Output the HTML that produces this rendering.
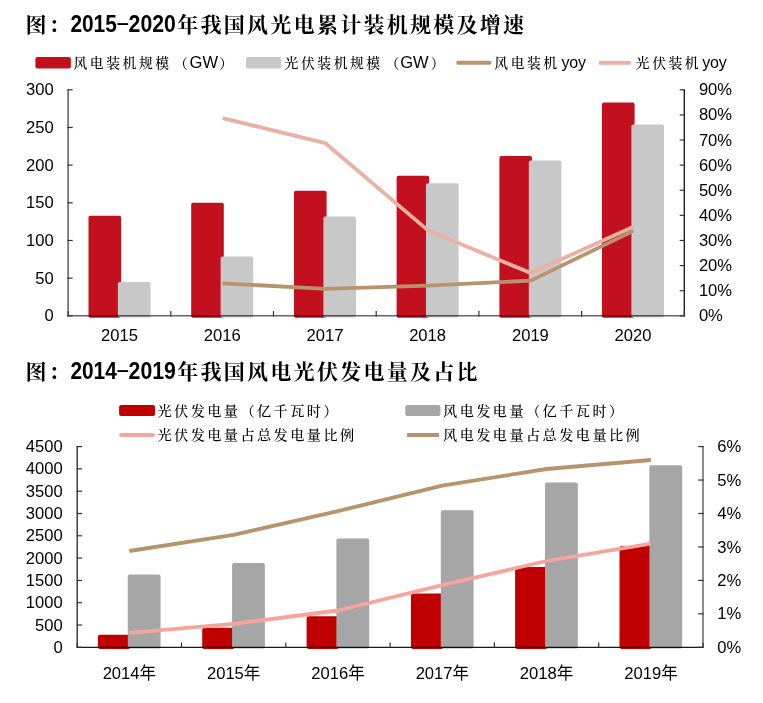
<!DOCTYPE html>
<html lang="zh-CN"><head><meta charset="utf-8"><title>chart</title>
<style>html,body{margin:0;padding:0;background:#fff}svg{display:block}text{white-space:pre}</style></head>
<body>
<svg width="763" height="703" viewBox="0 0 763 703">
<rect width="763" height="703" fill="#fff"/>
<text fill="#000"><tspan x="25.6" y="32.2" font-size="21" font-family='"Liberation Sans", "Noto Serif CJK SC", serif' font-weight="bold" letter-spacing="2.27">图：</tspan><tspan x="70.4" y="31.9" font-size="23" font-family='"Liberation Sans", "Noto Sans CJK SC", sans-serif' font-weight="bold" textLength="46.4" lengthAdjust="spacingAndGlyphs">2015</tspan><tspan x="115.4" y="29.8" font-size="23" font-family='"Liberation Sans", "Noto Sans CJK SC", sans-serif' font-weight="normal" textLength="14.6" lengthAdjust="spacingAndGlyphs">-</tspan><tspan x="128.6" y="31.9" font-size="23" font-family='"Liberation Sans", "Noto Sans CJK SC", sans-serif' font-weight="bold" textLength="47.2" lengthAdjust="spacingAndGlyphs">2020</tspan><tspan x="177.3" y="32.2" font-size="21" font-family='"Liberation Sans", "Noto Serif CJK SC", serif' font-weight="bold" letter-spacing="2.27">年我国风光电累计装机规模及增速</tspan></text>
<text fill="#000"><tspan x="25.6" y="379" font-size="21" font-family='"Liberation Sans", "Noto Serif CJK SC", serif' font-weight="bold" letter-spacing="2.27">图：</tspan><tspan x="70.4" y="378.7" font-size="23" font-family='"Liberation Sans", "Noto Sans CJK SC", sans-serif' font-weight="bold" textLength="46.4" lengthAdjust="spacingAndGlyphs">2014</tspan><tspan x="115.4" y="376.6" font-size="23" font-family='"Liberation Sans", "Noto Sans CJK SC", sans-serif' font-weight="normal" textLength="14.6" lengthAdjust="spacingAndGlyphs">-</tspan><tspan x="128.6" y="378.7" font-size="23" font-family='"Liberation Sans", "Noto Sans CJK SC", sans-serif' font-weight="bold" textLength="47.2" lengthAdjust="spacingAndGlyphs">2019</tspan><tspan x="177.3" y="379" font-size="21" font-family='"Liberation Sans", "Noto Serif CJK SC", serif' font-weight="bold" letter-spacing="2.27">年我国风电光伏发电量及占比</tspan></text>
<rect x="35.4" y="56.9" width="35.5" height="11.6" rx="2" fill="#c3101e"/>
<text fill="#000"><tspan x="73.5" y="67.9" font-size="13.8" font-family='"Liberation Sans", "Noto Serif CJK SC", serif' font-weight="500" letter-spacing="2.55">风电装机规模</tspan><tspan x="174" y="67.9" font-size="13.8" font-family='"Liberation Sans", "Noto Serif CJK SC", serif' font-weight="500" letter-spacing="2.55">（</tspan><tspan x="189.6" y="67.8" font-size="16.5" font-family='"Liberation Sans", "Noto Sans CJK SC", sans-serif' font-weight="normal">GW</tspan><tspan x="219.2" y="67.9" font-size="13.8" font-family='"Liberation Sans", "Noto Serif CJK SC", serif' font-weight="500" letter-spacing="2.55">）</tspan></text>
<rect x="246" y="56.9" width="35.1" height="11.6" rx="2" fill="#c8c8c8"/>
<text fill="#000"><tspan x="284.6" y="67.9" font-size="13.8" font-family='"Liberation Sans", "Noto Serif CJK SC", serif' font-weight="500" letter-spacing="2.55">光伏装机规模</tspan><tspan x="385.4" y="67.9" font-size="13.8" font-family='"Liberation Sans", "Noto Serif CJK SC", serif' font-weight="500" letter-spacing="2.55">（</tspan><tspan x="400.2" y="67.8" font-size="16.5" font-family='"Liberation Sans", "Noto Sans CJK SC", sans-serif' font-weight="normal">GW</tspan><tspan x="430.7" y="67.9" font-size="13.8" font-family='"Liberation Sans", "Noto Serif CJK SC", serif' font-weight="500" letter-spacing="2.55">）</tspan></text>
<line x1="458.2" y1="62.85" x2="489.6" y2="62.85" stroke="#b8946e" stroke-width="4" stroke-linecap="round"/>
<text fill="#000"><tspan x="494.3" y="67.9" font-size="13.8" font-family='"Liberation Sans", "Noto Serif CJK SC", serif' font-weight="500" letter-spacing="2.55">风电装机</tspan><tspan x="561.5" y="68" font-size="16" font-family='"Liberation Sans", "Noto Sans CJK SC", sans-serif' font-weight="normal" textLength="24.4" lengthAdjust="spacing">yoy</tspan></text>
<line x1="599" y1="62.85" x2="630.8" y2="62.85" stroke="#e9b0a4" stroke-width="3.9"/>
<text fill="#000"><tspan x="635.8" y="67.9" font-size="13.8" font-family='"Liberation Sans", "Noto Serif CJK SC", serif' font-weight="500" letter-spacing="2.55">光伏装机</tspan><tspan x="702.2" y="68" font-size="16" font-family='"Liberation Sans", "Noto Sans CJK SC", sans-serif' font-weight="normal" textLength="24.6" lengthAdjust="spacing">yoy</tspan></text>
<rect x="88.5" y="215.8" width="32.6" height="102.0" rx="1.8" fill="#c3101e"/>
<rect x="117.9" y="282.1" width="32.6" height="35.3" rx="1.8" fill="#c8c8c8"/>
<rect x="191.2" y="202.8" width="32.6" height="115.0" rx="1.8" fill="#c3101e"/>
<rect x="220.6" y="256.5" width="32.6" height="60.9" rx="1.8" fill="#c8c8c8"/>
<rect x="294.0" y="190.7" width="32.6" height="127.1" rx="1.8" fill="#c3101e"/>
<rect x="323.4" y="216.4" width="32.6" height="101.0" rx="1.8" fill="#c8c8c8"/>
<rect x="396.6" y="175.7" width="32.6" height="142.1" rx="1.8" fill="#c3101e"/>
<rect x="426.0" y="183.2" width="32.6" height="134.2" rx="1.8" fill="#c8c8c8"/>
<rect x="499.4" y="156.1" width="32.6" height="161.7" rx="1.8" fill="#c3101e"/>
<rect x="528.8" y="160.6" width="32.6" height="156.8" rx="1.8" fill="#c8c8c8"/>
<rect x="602.0" y="102.6" width="32.6" height="215.2" rx="1.8" fill="#c3101e"/>
<rect x="631.4" y="124.5" width="32.6" height="192.9" rx="1.8" fill="#c8c8c8"/>
<path d="M68.1 89.2V315.8H684.3" fill="none" stroke="#000" stroke-opacity="0.6" stroke-width="1.6"/>
<line x1="684.3" x2="684.3" y1="89.2" y2="316.40000000000003" stroke="#111" stroke-width="1.3"/>
<line x1="67.5" x2="72.69999999999999" y1="89.80" y2="89.80" stroke="#333" stroke-width="1.2"/>
<text x="53.8" y="95.3" font-size="16.6" font-family='"Liberation Sans", "Noto Sans CJK SC", sans-serif' font-weight="normal" text-anchor="end" fill="#000">300</text>
<line x1="67.5" x2="72.69999999999999" y1="127.47" y2="127.47" stroke="#333" stroke-width="1.2"/>
<text x="53.8" y="133.0" font-size="16.6" font-family='"Liberation Sans", "Noto Sans CJK SC", sans-serif' font-weight="normal" text-anchor="end" fill="#000">250</text>
<line x1="67.5" x2="72.69999999999999" y1="165.13" y2="165.13" stroke="#333" stroke-width="1.2"/>
<text x="53.8" y="170.6" font-size="16.6" font-family='"Liberation Sans", "Noto Sans CJK SC", sans-serif' font-weight="normal" text-anchor="end" fill="#000">200</text>
<line x1="67.5" x2="72.69999999999999" y1="202.80" y2="202.80" stroke="#333" stroke-width="1.2"/>
<text x="53.8" y="208.3" font-size="16.6" font-family='"Liberation Sans", "Noto Sans CJK SC", sans-serif' font-weight="normal" text-anchor="end" fill="#000">150</text>
<line x1="67.5" x2="72.69999999999999" y1="240.47" y2="240.47" stroke="#333" stroke-width="1.2"/>
<text x="53.8" y="246.0" font-size="16.6" font-family='"Liberation Sans", "Noto Sans CJK SC", sans-serif' font-weight="normal" text-anchor="end" fill="#000">100</text>
<line x1="67.5" x2="72.69999999999999" y1="278.13" y2="278.13" stroke="#333" stroke-width="1.2"/>
<text x="53.8" y="283.6" font-size="16.6" font-family='"Liberation Sans", "Noto Sans CJK SC", sans-serif' font-weight="normal" text-anchor="end" fill="#000">50</text>
<line x1="67.5" x2="72.69999999999999" y1="315.80" y2="315.80" stroke="#333" stroke-width="1.2"/>
<text x="53.8" y="321.3" font-size="16.6" font-family='"Liberation Sans", "Noto Sans CJK SC", sans-serif' font-weight="normal" text-anchor="end" fill="#000">0</text>
<line x1="679.6999999999999" x2="684.8" y1="89.80" y2="89.80" stroke="#333" stroke-width="1.2"/>
<text x="698.9" y="95.3" font-size="16.6" font-family='"Liberation Sans", "Noto Sans CJK SC", sans-serif' font-weight="normal" text-anchor="start" fill="#000">90%</text>
<line x1="679.6999999999999" x2="684.8" y1="114.91" y2="114.91" stroke="#333" stroke-width="1.2"/>
<text x="698.9" y="120.4" font-size="16.6" font-family='"Liberation Sans", "Noto Sans CJK SC", sans-serif' font-weight="normal" text-anchor="start" fill="#000">80%</text>
<line x1="679.6999999999999" x2="684.8" y1="140.02" y2="140.02" stroke="#333" stroke-width="1.2"/>
<text x="698.9" y="145.5" font-size="16.6" font-family='"Liberation Sans", "Noto Sans CJK SC", sans-serif' font-weight="normal" text-anchor="start" fill="#000">70%</text>
<line x1="679.6999999999999" x2="684.8" y1="165.13" y2="165.13" stroke="#333" stroke-width="1.2"/>
<text x="698.9" y="170.6" font-size="16.6" font-family='"Liberation Sans", "Noto Sans CJK SC", sans-serif' font-weight="normal" text-anchor="start" fill="#000">60%</text>
<line x1="679.6999999999999" x2="684.8" y1="190.24" y2="190.24" stroke="#333" stroke-width="1.2"/>
<text x="698.9" y="195.7" font-size="16.6" font-family='"Liberation Sans", "Noto Sans CJK SC", sans-serif' font-weight="normal" text-anchor="start" fill="#000">50%</text>
<line x1="679.6999999999999" x2="684.8" y1="215.36" y2="215.36" stroke="#333" stroke-width="1.2"/>
<text x="698.9" y="220.9" font-size="16.6" font-family='"Liberation Sans", "Noto Sans CJK SC", sans-serif' font-weight="normal" text-anchor="start" fill="#000">40%</text>
<line x1="679.6999999999999" x2="684.8" y1="240.47" y2="240.47" stroke="#333" stroke-width="1.2"/>
<text x="698.9" y="246.0" font-size="16.6" font-family='"Liberation Sans", "Noto Sans CJK SC", sans-serif' font-weight="normal" text-anchor="start" fill="#000">30%</text>
<line x1="679.6999999999999" x2="684.8" y1="265.58" y2="265.58" stroke="#333" stroke-width="1.2"/>
<text x="698.9" y="271.1" font-size="16.6" font-family='"Liberation Sans", "Noto Sans CJK SC", sans-serif' font-weight="normal" text-anchor="start" fill="#000">20%</text>
<line x1="679.6999999999999" x2="684.8" y1="290.69" y2="290.69" stroke="#333" stroke-width="1.2"/>
<text x="698.9" y="296.2" font-size="16.6" font-family='"Liberation Sans", "Noto Sans CJK SC", sans-serif' font-weight="normal" text-anchor="start" fill="#000">10%</text>
<line x1="679.6999999999999" x2="684.8" y1="315.80" y2="315.80" stroke="#333" stroke-width="1.2"/>
<text x="698.9" y="321.3" font-size="16.6" font-family='"Liberation Sans", "Noto Sans CJK SC", sans-serif' font-weight="normal" text-anchor="start" fill="#000">0%</text>
<line x1="68.10" x2="68.10" y1="311.0" y2="316.40000000000003" stroke="#333" stroke-width="1.2"/>
<line x1="170.80" x2="170.80" y1="311.0" y2="316.40000000000003" stroke="#333" stroke-width="1.2"/>
<line x1="273.50" x2="273.50" y1="311.0" y2="316.40000000000003" stroke="#333" stroke-width="1.2"/>
<line x1="376.20" x2="376.20" y1="311.0" y2="316.40000000000003" stroke="#333" stroke-width="1.2"/>
<line x1="478.90" x2="478.90" y1="311.0" y2="316.40000000000003" stroke="#333" stroke-width="1.2"/>
<line x1="581.60" x2="581.60" y1="311.0" y2="316.40000000000003" stroke="#333" stroke-width="1.2"/>
<line x1="684.30" x2="684.30" y1="311.0" y2="316.40000000000003" stroke="#333" stroke-width="1.2"/>
<text x="119.5" y="341.2" font-size="16.6" font-family='"Liberation Sans", "Noto Sans CJK SC", sans-serif' font-weight="normal" text-anchor="middle" fill="#000">2015</text>
<text x="222.2" y="341.2" font-size="16.6" font-family='"Liberation Sans", "Noto Sans CJK SC", sans-serif' font-weight="normal" text-anchor="middle" fill="#000">2016</text>
<text x="325.0" y="341.2" font-size="16.6" font-family='"Liberation Sans", "Noto Sans CJK SC", sans-serif' font-weight="normal" text-anchor="middle" fill="#000">2017</text>
<text x="427.6" y="341.2" font-size="16.6" font-family='"Liberation Sans", "Noto Sans CJK SC", sans-serif' font-weight="normal" text-anchor="middle" fill="#000">2018</text>
<text x="530.4" y="341.2" font-size="16.6" font-family='"Liberation Sans", "Noto Sans CJK SC", sans-serif' font-weight="normal" text-anchor="middle" fill="#000">2019</text>
<text x="633.0" y="341.2" font-size="16.6" font-family='"Liberation Sans", "Noto Sans CJK SC", sans-serif' font-weight="normal" text-anchor="middle" fill="#000">2020</text>
<polyline points="222.6,283.3 325.4,288.8 428.0,285.7 530.8,280.6 633.4,230.9" fill="none" stroke="#b8946e" stroke-width="3.8" stroke-linejoin="round" stroke-linecap="butt"/>
<polyline points="222.6,118.1 325.4,143.2 428.0,230.4 530.8,273.1 633.4,226.7" fill="none" stroke="#e9b0a4" stroke-width="3.8" stroke-linejoin="round" stroke-linecap="butt"/>
<rect x="119.1" y="405" width="35.9" height="11" rx="2" fill="#c00000"/>
<text x="157.5" y="415.8" font-size="14.2" font-family='"Liberation Sans", "Noto Serif CJK SC", serif' font-weight="500" text-anchor="start" fill="#000" letter-spacing="2.4">光伏发电量（亿千瓦时）</text>
<rect x="405.3" y="405" width="35.1" height="11" rx="2" fill="#a6a6a6"/>
<text x="443.1" y="415.8" font-size="14.2" font-family='"Liberation Sans", "Noto Serif CJK SC", serif' font-weight="500" text-anchor="start" fill="#000" letter-spacing="2.4">风电发电量（亿千瓦时）</text>
<line x1="121" y1="435" x2="153" y2="435" stroke="#f5a59e" stroke-width="3.9" stroke-linecap="round"/>
<text x="157.5" y="440.2" font-size="14.2" font-family='"Liberation Sans", "Noto Serif CJK SC", serif' font-weight="500" text-anchor="start" fill="#000" letter-spacing="2.4">光伏发电量占总发电量比例</text>
<line x1="407.1" y1="435" x2="439.1" y2="435" stroke="#b8946e" stroke-width="3.9"/>
<text x="443.1" y="440.2" font-size="14.2" font-family='"Liberation Sans", "Noto Serif CJK SC", serif' font-weight="500" text-anchor="start" fill="#000" letter-spacing="2.4">风电发电量占总发电量比例</text>
<rect x="97.9" y="634.8" width="32.6" height="14.1" rx="1.8" fill="#c00000"/>
<rect x="127.8" y="574.6" width="32.800000000000004" height="74.0" rx="1.8" fill="#a6a6a6"/>
<rect x="202.2" y="627.7" width="32.6" height="21.2" rx="1.8" fill="#c00000"/>
<rect x="232.1" y="563.0" width="32.800000000000004" height="85.6" rx="1.8" fill="#a6a6a6"/>
<rect x="306.6" y="616.2" width="32.6" height="32.7" rx="1.8" fill="#c00000"/>
<rect x="336.4" y="538.4" width="32.800000000000004" height="110.2" rx="1.8" fill="#a6a6a6"/>
<rect x="410.9" y="593.6" width="32.6" height="55.3" rx="1.8" fill="#c00000"/>
<rect x="440.8" y="510.3" width="32.800000000000004" height="138.3" rx="1.8" fill="#a6a6a6"/>
<rect x="515.1" y="567.0" width="32.6" height="81.9" rx="1.8" fill="#c00000"/>
<rect x="545.0" y="482.5" width="32.800000000000004" height="166.1" rx="1.8" fill="#a6a6a6"/>
<rect x="619.5" y="546.0" width="32.6" height="102.9" rx="1.8" fill="#c00000"/>
<rect x="649.4" y="465.2" width="32.800000000000004" height="183.4" rx="1.8" fill="#a6a6a6"/>
<path d="M77.2 446.0V647.3H703.0" fill="none" stroke="#000" stroke-opacity="0.9" stroke-width="1.25"/>
<line x1="703.0" x2="703.0" y1="446.0" y2="647.9" stroke="#666" stroke-width="1.5"/>
<line x1="76.7" x2="82.0" y1="446.60" y2="446.60" stroke="#333" stroke-width="1.2"/>
<text x="62.7" y="452.1" font-size="16.6" font-family='"Liberation Sans", "Noto Sans CJK SC", sans-serif' font-weight="normal" text-anchor="end" fill="#000">4500</text>
<line x1="76.7" x2="82.0" y1="468.90" y2="468.90" stroke="#333" stroke-width="1.2"/>
<text x="62.7" y="474.4" font-size="16.6" font-family='"Liberation Sans", "Noto Sans CJK SC", sans-serif' font-weight="normal" text-anchor="end" fill="#000">4000</text>
<line x1="76.7" x2="82.0" y1="491.20" y2="491.20" stroke="#333" stroke-width="1.2"/>
<text x="62.7" y="496.7" font-size="16.6" font-family='"Liberation Sans", "Noto Sans CJK SC", sans-serif' font-weight="normal" text-anchor="end" fill="#000">3500</text>
<line x1="76.7" x2="82.0" y1="513.50" y2="513.50" stroke="#333" stroke-width="1.2"/>
<text x="62.7" y="519.0" font-size="16.6" font-family='"Liberation Sans", "Noto Sans CJK SC", sans-serif' font-weight="normal" text-anchor="end" fill="#000">3000</text>
<line x1="76.7" x2="82.0" y1="535.80" y2="535.80" stroke="#333" stroke-width="1.2"/>
<text x="62.7" y="541.3" font-size="16.6" font-family='"Liberation Sans", "Noto Sans CJK SC", sans-serif' font-weight="normal" text-anchor="end" fill="#000">2500</text>
<line x1="76.7" x2="82.0" y1="558.10" y2="558.10" stroke="#333" stroke-width="1.2"/>
<text x="62.7" y="563.6" font-size="16.6" font-family='"Liberation Sans", "Noto Sans CJK SC", sans-serif' font-weight="normal" text-anchor="end" fill="#000">2000</text>
<line x1="76.7" x2="82.0" y1="580.40" y2="580.40" stroke="#333" stroke-width="1.2"/>
<text x="62.7" y="585.9" font-size="16.6" font-family='"Liberation Sans", "Noto Sans CJK SC", sans-serif' font-weight="normal" text-anchor="end" fill="#000">1500</text>
<line x1="76.7" x2="82.0" y1="602.70" y2="602.70" stroke="#333" stroke-width="1.2"/>
<text x="62.7" y="608.2" font-size="16.6" font-family='"Liberation Sans", "Noto Sans CJK SC", sans-serif' font-weight="normal" text-anchor="end" fill="#000">1000</text>
<line x1="76.7" x2="82.0" y1="625.00" y2="625.00" stroke="#333" stroke-width="1.2"/>
<text x="62.7" y="630.5" font-size="16.6" font-family='"Liberation Sans", "Noto Sans CJK SC", sans-serif' font-weight="normal" text-anchor="end" fill="#000">500</text>
<line x1="76.7" x2="82.0" y1="647.30" y2="647.30" stroke="#333" stroke-width="1.2"/>
<text x="62.7" y="652.8" font-size="16.6" font-family='"Liberation Sans", "Noto Sans CJK SC", sans-serif' font-weight="normal" text-anchor="end" fill="#000">0</text>
<line x1="698.2" x2="703.6" y1="446.60" y2="446.60" stroke="#333" stroke-width="1.2"/>
<text x="717.2" y="452.1" font-size="16.6" font-family='"Liberation Sans", "Noto Sans CJK SC", sans-serif' font-weight="normal" text-anchor="start" fill="#000">6%</text>
<line x1="698.2" x2="703.6" y1="480.05" y2="480.05" stroke="#333" stroke-width="1.2"/>
<text x="717.2" y="485.6" font-size="16.6" font-family='"Liberation Sans", "Noto Sans CJK SC", sans-serif' font-weight="normal" text-anchor="start" fill="#000">5%</text>
<line x1="698.2" x2="703.6" y1="513.50" y2="513.50" stroke="#333" stroke-width="1.2"/>
<text x="717.2" y="519.0" font-size="16.6" font-family='"Liberation Sans", "Noto Sans CJK SC", sans-serif' font-weight="normal" text-anchor="start" fill="#000">4%</text>
<line x1="698.2" x2="703.6" y1="546.95" y2="546.95" stroke="#333" stroke-width="1.2"/>
<text x="717.2" y="552.5" font-size="16.6" font-family='"Liberation Sans", "Noto Sans CJK SC", sans-serif' font-weight="normal" text-anchor="start" fill="#000">3%</text>
<line x1="698.2" x2="703.6" y1="580.40" y2="580.40" stroke="#333" stroke-width="1.2"/>
<text x="717.2" y="585.9" font-size="16.6" font-family='"Liberation Sans", "Noto Sans CJK SC", sans-serif' font-weight="normal" text-anchor="start" fill="#000">2%</text>
<line x1="698.2" x2="703.6" y1="613.85" y2="613.85" stroke="#333" stroke-width="1.2"/>
<text x="717.2" y="619.3" font-size="16.6" font-family='"Liberation Sans", "Noto Sans CJK SC", sans-serif' font-weight="normal" text-anchor="start" fill="#000">1%</text>
<line x1="698.2" x2="703.6" y1="647.30" y2="647.30" stroke="#333" stroke-width="1.2"/>
<text x="717.2" y="652.8" font-size="16.6" font-family='"Liberation Sans", "Noto Sans CJK SC", sans-serif' font-weight="normal" text-anchor="start" fill="#000">0%</text>
<line x1="77.20" x2="77.20" y1="642.5" y2="647.8" stroke="#333" stroke-width="1.2"/>
<line x1="181.50" x2="181.50" y1="642.5" y2="647.8" stroke="#333" stroke-width="1.2"/>
<line x1="285.80" x2="285.80" y1="642.5" y2="647.8" stroke="#333" stroke-width="1.2"/>
<line x1="390.10" x2="390.10" y1="642.5" y2="647.8" stroke="#333" stroke-width="1.2"/>
<line x1="494.40" x2="494.40" y1="642.5" y2="647.8" stroke="#333" stroke-width="1.2"/>
<line x1="598.70" x2="598.70" y1="642.5" y2="647.8" stroke="#333" stroke-width="1.2"/>
<line x1="703.00" x2="703.00" y1="642.5" y2="647.8" stroke="#333" stroke-width="1.2"/>
<text x="129.4" y="679.3" font-size="16.6" font-family='"Liberation Sans", "Noto Sans CJK SC", sans-serif' font-weight="normal" text-anchor="middle" fill="#000">2014年</text>
<text x="233.7" y="679.3" font-size="16.6" font-family='"Liberation Sans", "Noto Sans CJK SC", sans-serif' font-weight="normal" text-anchor="middle" fill="#000">2015年</text>
<text x="338.1" y="679.3" font-size="16.6" font-family='"Liberation Sans", "Noto Sans CJK SC", sans-serif' font-weight="normal" text-anchor="middle" fill="#000">2016年</text>
<text x="442.4" y="679.3" font-size="16.6" font-family='"Liberation Sans", "Noto Sans CJK SC", sans-serif' font-weight="normal" text-anchor="middle" fill="#000">2017年</text>
<text x="546.6" y="679.3" font-size="16.6" font-family='"Liberation Sans", "Noto Sans CJK SC", sans-serif' font-weight="normal" text-anchor="middle" fill="#000">2018年</text>
<text x="651.0" y="679.3" font-size="16.6" font-family='"Liberation Sans", "Noto Sans CJK SC", sans-serif' font-weight="normal" text-anchor="middle" fill="#000">2019年</text>
<polyline points="129.3,551.0 233.6,534.9 337.9,511.2 442.2,485.7 546.5,469.0 650.9,460.0" fill="none" stroke="#b8946e" stroke-width="3.8" stroke-linejoin="round" stroke-linecap="butt"/>
<polyline points="129.3,632.9 233.6,623.9 337.9,610.5 442.2,585.1 546.5,561.0 650.9,543.6" fill="none" stroke="#f5a59e" stroke-width="3.8" stroke-linejoin="round" stroke-linecap="butt"/>
</svg>
</body></html>
